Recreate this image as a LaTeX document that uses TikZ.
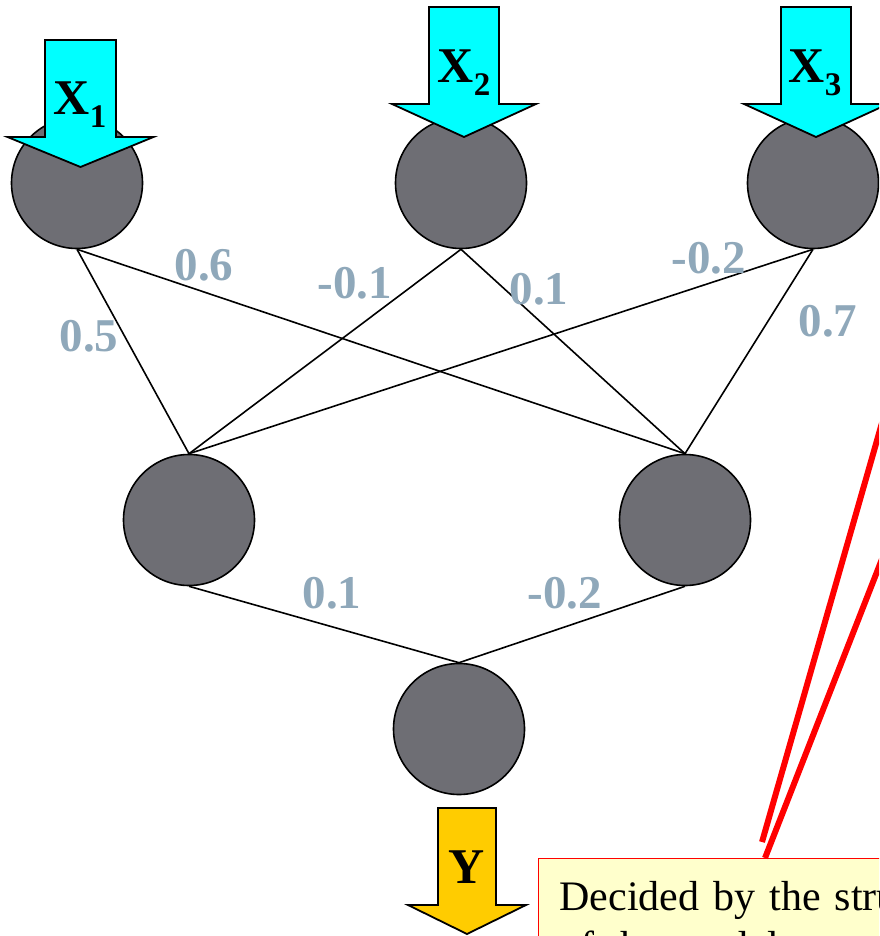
\documentclass[tikz,border=0pt]{standalone}
\usepackage{fontspec}
\setmainfont{Liberation Serif}
\usetikzlibrary{positioning}
\definecolor{neurongray}{RGB}{110,110,116}
\definecolor{weightblue}{RGB}{143,168,186}
\definecolor{notefill}{RGB}{255,255,204}
\definecolor{ingcyan}{RGB}{0,255,255}
\definecolor{outgold}{RGB}{255,204,0}
\tikzset{neuron/.style = {circle, draw, line width=1.6pt, fill=neurongray, minimum size=131pt, inner sep=0pt},
	synapse/.style = {line width=1.6pt},
	weight/.style = {text=weightblue, font=\fontsize{47}{47}\selectfont\bfseries, inner sep=0pt},
	varlabel/.style = {font=\fontsize{50}{50}\selectfont\bfseries, inner sep=0pt, anchor=base},
	notebox/.style = {rectangle, draw=red, line width=1.2pt, fill=notefill, anchor=north west, align=left, text width=520pt, inner xsep=21pt, inner ysep=23pt, font=\fontsize{42}{50}\selectfont},
	pointer/.style = {red, line width=6pt}}

% block arrow: x, top, shoulder, tip, shaft half width, head half width, fill
\newcommand{\fatarrow}[7]{%
  \filldraw[draw=black, line width=1.8pt, fill=#7] (#1-#5,#2) -- (#1+#5,#2) -- (#1+#5,#3) -- (#1+#6,#3) -- (#1,#4) -- (#1-#6,#3) -- (#1-#5,#3) -- cycle;}
\newcommand{\invar}[1]{X\raisebox{-13pt}{\fontsize{33}{33}\selectfont #1}}

\begin{document}
\begin{tikzpicture}[x=1pt, y=-1pt]

 \useasboundingbox (0,0) rectangle (879,936);
 \clip (0,0) rectangle (879,936);

 % input, hidden and output layer
 \node (in1) at (77,183) [neuron] {};
 \node (in2) at (461,183) [neuron] {};
 \node (in3) at (813,183) [neuron] {};
 \node (hid1) at (189,520) [neuron] {};
 \node (hid2) at (685,520) [neuron] {};
 \node (out) at (459,729) [neuron] {};

 \draw (hid1.north) edge [synapse] (in1.south) edge [synapse] (in2.south) edge [synapse] (in3.south);
 \draw (hid2.north) edge [synapse] (in1.south) edge [synapse] (in2.south) edge [synapse] (in3.south);
 \draw (out.north) edge [synapse] (hid1.south) edge [synapse] (hid2.south);

 \node (w11) at (89,336) [weight] {0.5};
 \node (w12) at (204,265) [weight] {0.6};
 \node (w21) at (355,283) [weight] {-0.1};
 \node (w22) at (539,289) [weight] {0.1};
 \node (w31) at (709,258) [weight] {-0.2};
 \node (w32) at (828,321) [weight] {0.7};
 \node (v1) at (332,593) [weight] {0.1};
 \node (v2) at (565,593) [weight] {-0.2};

 % inputs and output
 \fatarrow{80.5}{40}{137}{167}{35.5}{73}{ingcyan}
 \fatarrow{464}{7}{104}{137}{35}{72}{ingcyan}
 \fatarrow{816}{7}{104}{137}{35}{72}{ingcyan}
 \fatarrow{467}{808}{905}{934}{29}{59}{outgold}
 \node (x1) at (80,115) [varlabel] {\invar{1}};
 \node (x2) at (464,83) [varlabel] {\invar{2}};
 \node (x3) at (815,83) [varlabel] {\invar{3}};
 \node (y) at (467,883) [varlabel] {Y};

 % note with its two pointers
 \node (note) at (538,858) [notebox] {Decided by the structure\\of the model};
 \coordinate (tipA) at (762,842);
 \coordinate (tipB) at (765,858);
 \coordinate (farA) at (900,360);
 \coordinate (farB) at (900,513);
 \draw [pointer] (tipA) -- (farA);
 \draw [pointer] (tipB) -- (farB);

\end{tikzpicture}
\end{document}
